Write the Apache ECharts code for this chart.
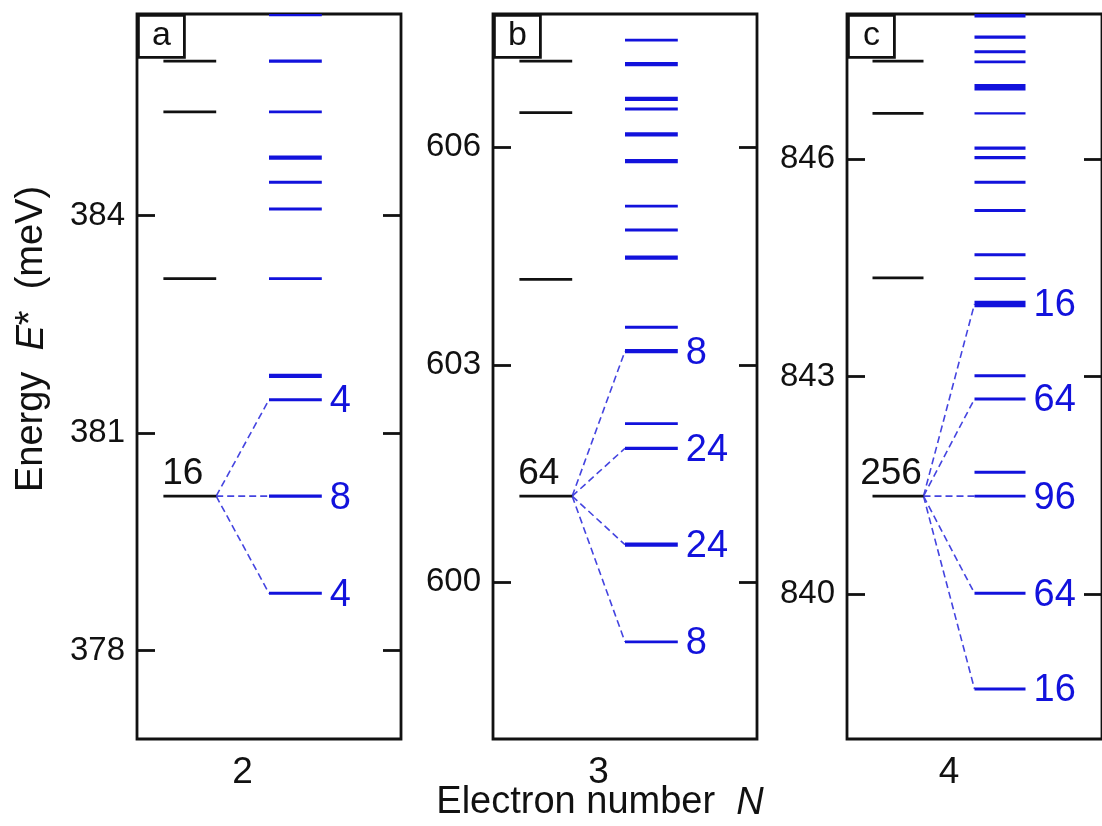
<!DOCTYPE html>
<html>
<head>
<meta charset="utf-8">
<title>Energy levels vs electron number</title>
<script src="https://cdn.jsdelivr.net/npm/echarts@6/dist/echarts.min.js"></script>
<style>
  html, body { margin: 0; padding: 0; background: #fff; }
  #chart { width: 1102px; height: 826px; }
</style>
</head>
<body>
<div id="chart"></div>
<script>
// ---- data -------------------------------------------------------------
const ELECTRON_NUMBERS = [2, 3, 4];
const PANEL_LETTERS = ['a', 'b', 'c'];

// y-axis windows (meV) and labelled ticks per panel
const Y_MIN = [376.78, 597.84, 838.0];
const Y_MAX = [386.78, 607.84, 848.0];
const Y_TICKS = [[378, 381, 384], [600, 603, 606], [840, 843, 846]];

// left column: reference levels (black)
const REF_LEVELS_N2 = [386.13, 385.43, 383.13, 380.13];
const REF_LEVELS_N3 = [607.19, 606.48, 604.18, 601.19];
const REF_LEVELS_N4 = [847.35, 846.63, 844.36, 841.35];

// degeneracy of the split reference level
const REF_DEGENERACY = [16, 64, 256];
// energy of the split reference level
const REF_SPLIT_LEVEL = [380.13, 601.19, 841.35];

// right column: resolved levels (blue)
const LEVELS_N2 = [386.77, 386.13, 385.43, 384.80, 384.46, 384.09, 383.13, 381.79, 381.46, 380.13, 378.79];
const LEVELS_N3 = [607.48, 607.15, 606.67, 606.53, 606.18, 605.81, 605.19, 604.86, 604.48,
                   603.52, 603.19, 602.19, 601.85, 600.52, 599.18];
const LEVELS_N4 = [847.98, 847.68, 847.48, 847.34, 846.99, 846.63, 846.15, 846.02, 845.68, 845.29,
                   844.68, 844.35, 844.00, 843.01, 842.69, 841.68, 841.35, 840.01, 838.69];

// sub-levels the reference level splits into, with their degeneracies
const SPLIT_N2 = [381.46, 380.13, 378.79];
const SPLIT_DEG_N2 = [4, 8, 4];
const SPLIT_N3 = [603.19, 601.85, 600.52, 599.18];
const SPLIT_DEG_N3 = [8, 24, 24, 8];
const SPLIT_N4 = [844.00, 842.69, 841.35, 840.01, 838.69];
const SPLIT_DEG_N4 = [16, 64, 96, 64, 16];

// ---- styling ----------------------------------------------------------
const BLUE = '#1212dc';
const DASH_BLUE = '#4444e0';
const INK = '#111111';
const FONT = '"Liberation Sans", Arial, Helvetica, sans-serif';
const W = 2.9, WT = 4.2, WX = 6.5;
// stroke weights of the blue lines (heavier = closely bunched levels)
const LEVEL_WEIGHTS = [
  [W, 3.3, W, WT, W, W, W, WT, W, 3.2, W],
  [W, WT, WT, W, WT, WT, W, W, WT, W, WT, W, 3.3, WT, W],
  [WT, 3.3, W, W, WX, 2.3, 3.3, 3.3, W, W, W, W, WX, W, W, W, W, W, W]
];

const refLevels = [REF_LEVELS_N2, REF_LEVELS_N3, REF_LEVELS_N4];
const levels = [LEVELS_N2, LEVELS_N3, LEVELS_N4];
const splits = [SPLIT_N2, SPLIT_N3, SPLIT_N4];
const splitDeg = [SPLIT_DEG_N2, SPLIT_DEG_N3, SPLIT_DEG_N4];

// panel frames
const GRID_LEFT = [137, 493, 847];
const GRID_W = 264, GRID_TOP = 14, GRID_H = 725;

// x layout inside each panel (0..10): ref column, gap, resolved column
const REF_X = [1, 3], RES_X = [5, 7], LABEL_X = 4;

const grids = [], xAxes = [], yAxes = [], series = [], graphics = [];

function segmentRenderer(x0, x1, color, weights) {
  return function (params, api) {
    const e = api.value(0);
    const p0 = api.coord([x0, e]);
    const p1 = api.coord([x1, e]);
    return {
      type: 'line',
      shape: { x1: p0[0], y1: p0[1], x2: p1[0], y2: p1[1] },
      style: { stroke: color, lineWidth: weights ? weights[params.dataIndex] : W }
    };
  };
}

for (let i = 0; i < 3; i++) {
  grids.push({
    left: GRID_LEFT[i], top: GRID_TOP, width: GRID_W, height: GRID_H,
    show: true, borderColor: INK, borderWidth: 2.8, backgroundColor: 'transparent'
  });
  xAxes.push({
    type: 'value', gridIndex: i, min: 0, max: 10,
    axisLine: { show: false }, axisTick: { show: false }, splitLine: { show: false },
    axisLabel: {
      customValues: [LABEL_X], margin: 15,
      formatter: () => String(ELECTRON_NUMBERS[i]),
      color: INK, fontSize: 37, fontFamily: FONT
    }
  });
  const yBase = {
    type: 'value', gridIndex: i, min: Y_MIN[i], max: Y_MAX[i],
    axisLine: { show: false }, splitLine: { show: false },
    axisTick: { show: true, inside: true, length: 18, customValues: Y_TICKS[i],
                lineStyle: { color: INK, width: 2.8 } }
  };
  yAxes.push(Object.assign({}, yBase, {
    position: 'left',
    axisLabel: { customValues: Y_TICKS[i], margin: 12, color: INK, fontSize: 33, fontFamily: FONT }
  }));
  yAxes.push(Object.assign({}, yBase, {
    position: 'right', axisLabel: { show: false }
  }));

  const xi = i, yi = 2 * i;

  // reference levels
  series.push({
    type: 'custom', xAxisIndex: xi, yAxisIndex: yi, clip: true,
    data: refLevels[i].map(v => [v]),
    renderItem: segmentRenderer(REF_X[0], REF_X[1], INK, null)
  });
  // resolved levels
  series.push({
    type: 'custom', xAxisIndex: xi, yAxisIndex: yi, clip: true,
    data: levels[i].map(v => [v]),
    renderItem: segmentRenderer(RES_X[0], RES_X[1], BLUE, LEVEL_WEIGHTS[i])
  });
  // dashed connectors from the split reference level
  series.push({
    type: 'custom', xAxisIndex: xi, yAxisIndex: yi, clip: true, z: 1,
    data: splits[i].map(v => [REF_SPLIT_LEVEL[i], v]),
    renderItem: function (params, api) {
      const p0 = api.coord([REF_X[1], api.value(0)]);
      const p1 = api.coord([RES_X[0], api.value(1)]);
      return {
        type: 'line',
        shape: { x1: p0[0], y1: p0[1], x2: p1[0], y2: p1[1] },
        style: { stroke: DASH_BLUE, lineWidth: 1.6, lineDash: [7, 4] }
      };
    }
  });
  // degeneracy labels of the sub-levels
  series.push({
    type: 'custom', xAxisIndex: xi, yAxisIndex: yi, clip: false,
    data: splits[i].map((v, k) => [v, splitDeg[i][k]]),
    renderItem: function (params, api) {
      const p = api.coord([RES_X[1], api.value(0)]);
      return {
        type: 'text', x: p[0] + 8, y: p[1] + 2,
        style: { text: String(api.value(1)), fill: BLUE, font: '38px ' + FONT,
                 align: 'left', verticalAlign: 'middle', textAlign: 'left', textVerticalAlign: 'middle' }
      };
    }
  });
  // degeneracy label of the reference level
  series.push({
    type: 'custom', xAxisIndex: xi, yAxisIndex: yi, clip: false,
    data: [[REF_SPLIT_LEVEL[i], REF_DEGENERACY[i]]],
    renderItem: function (params, api) {
      const p = api.coord([(REF_X[0] + REF_X[1]) / 2, api.value(0)]);
      return {
        type: 'text', x: p[0] - 7, y: p[1] - 4,
        style: { text: String(api.value(1)), fill: INK, font: '37px ' + FONT,
                 align: 'center', verticalAlign: 'bottom', textAlign: 'center', textVerticalAlign: 'bottom' }
      };
    }
  });

  // panel letter box
  graphics.push({
    type: 'group', left: GRID_LEFT[i], top: GRID_TOP, z: 100,
    children: [
      { type: 'rect', shape: { x: 0, y: 0, width: 46, height: 42 },
        style: { fill: '#fff', stroke: INK, lineWidth: 2.8 } },
      { type: 'text', x: 23, y: 20,
        style: { text: PANEL_LETTERS[i], fill: INK, font: '34px ' + FONT,
                 align: 'center', verticalAlign: 'middle', textAlign: 'center', textVerticalAlign: 'middle' } }
    ]
  });
}

// axis titles
graphics.push({
  type: 'text', x: 32, y: 339, rotation: Math.PI / 2, z: 100,
  style: {
    text: '{n|Energy  }{i|E}{n|*  (meV)}',
    align: 'center', verticalAlign: 'middle', textAlign: 'center', textVerticalAlign: 'middle',
    rich: {
      n: { fontSize: 38, fontFamily: FONT, fill: INK, color: INK },
      i: { fontSize: 38, fontFamily: FONT, fontStyle: 'italic', fill: INK, color: INK }
    }
  }
});
graphics.push({
  type: 'text', x: 600, y: 803, z: 100,
  style: {
    text: '{n|Electron number  }{i|N}',
    align: 'center', verticalAlign: 'middle', textAlign: 'center', textVerticalAlign: 'middle',
    rich: {
      n: { fontSize: 38, fontFamily: FONT, fill: INK, color: INK },
      i: { fontSize: 38, fontFamily: FONT, fontStyle: 'italic', fill: INK, color: INK }
    }
  }
});

const chart = echarts.init(document.getElementById('chart'), null, { renderer: 'canvas' });
chart.setOption({
  animation: false,
  backgroundColor: '#fff',
  grid: grids,
  xAxis: xAxes,
  yAxis: yAxes,
  series: series,
  graphic: graphics
});
</script>
</body>
</html>
